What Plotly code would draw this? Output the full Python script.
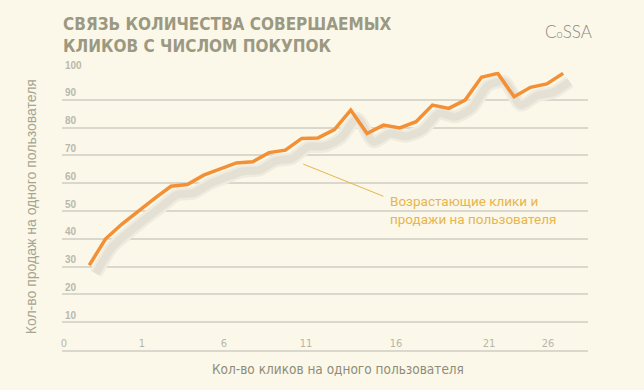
import plotly.graph_objects as go

# ---- data ----
click_index = [1, 2, 3, 4, 5, 6, 7, 8, 9, 10, 11, 12, 13, 14, 15,
               16, 17, 18, 19, 20, 21, 22, 23, 24, 25, 26, 27, 28, 29, 30]
sales = [30.5, 40.0, 45.3, 50.0, 54.5, 58.9, 59.5, 62.9, 65.2, 67.3,
         67.7, 71.0, 71.9, 76.1, 76.3, 79.3, 86.3, 77.9, 80.9, 79.9,
         82.1, 88.1, 86.9, 89.9, 98.1, 99.5, 91.1, 94.5, 95.7, 99.5]
x_tick_labels = ["0", "1", "6", "11", "16", "21", "26"]
y_tick_labels = ["10", "20", "30", "40", "50", "60", "70", "80", "90", "100"]
y_tick_values = [10, 20, 30, 40, 50, 60, 70, 80, 90, 100]

title_lines = ["СВЯЗЬ КОЛИЧЕСТВА СОВЕРШАЕМЫХ", "КЛИКОВ С ЧИСЛОМ ПОКУПОК"]
x_title = "Кол-во кликов на одного пользователя"
y_title = "Кол-во продаж на одного пользователя"
note_lines = ["Возрастающие клики и", "продажи на пользователя"]

# ---- style ----
BG = "#fbf8ea"
GRID = "#dad8cc"
ORANGE = "#f38f34"
TITLE_C = "#9b9982"
NOTE_C = "#e8b54c"
NARROW = "Liberation Sans Narrow, DejaVu Sans Condensed, sans-serif"

x_tick_positions = [-0.55, 4.22, 9.24, 14.26, 19.77, 25.46, 29.07]
shadow_dx, shadow_dy = 0.4, -3.0

fig = go.Figure()
# soft shadow under the line
fig.add_trace(go.Scatter(
    x=[v + shadow_dx for v in click_index], y=[v + shadow_dy for v in sales],
    mode="lines", line=dict(color="#efecdf", width=13, shape="spline", smoothing=0.7),
    hoverinfo="skip", showlegend=False))
fig.add_trace(go.Scatter(
    x=[v + shadow_dx for v in click_index], y=[v + shadow_dy for v in sales],
    mode="lines", line=dict(color="#e4e1d4", width=8, shape="spline", smoothing=0.7),
    hoverinfo="skip", showlegend=False))
fig.add_trace(go.Scatter(
    x=click_index, y=sales, mode="lines",
    line=dict(color=ORANGE, width=3.5), showlegend=False))

fig.update_layout(
    width=644, height=390,
    margin=dict(l=62, r=56, t=72, b=40),
    paper_bgcolor=BG, plot_bgcolor=BG,
    showlegend=False,
)
fig.update_xaxes(
    range=[-0.67, 31.52],
    tickmode="array", tickvals=x_tick_positions, ticktext=x_tick_labels,
    ticklabelposition="inside", ticklabeloverflow="allow",
    tickfont=dict(family=NARROW, size=11, color="#b8b6a8"),
    ticks="", showgrid=False, zeroline=False,
    showline=True, linecolor=GRID, linewidth=2,
)
fig.update_yaxes(
    range=[0, 100],
    tickmode="array", tickvals=y_tick_values, ticktext=y_tick_labels,
    ticklabelposition="inside top", ticklabeloverflow="allow",
    tickfont=dict(family="Liberation Sans, Arial, sans-serif", size=10,
                  color="#bab8aa", weight="bold"),
    ticks="", showgrid=True, gridcolor=GRID, gridwidth=2,
    zeroline=False, showline=False,
)

ann = []
ann.append(dict(xref="paper", yref="paper", x=-0.002, y=1.132, xanchor="left", yanchor="middle",
                text="<b>" + "<br>".join(title_lines) + "</b>", showarrow=False, align="left",
                font=dict(family=NARROW, size=17, color=TITLE_C)))
# logo
ann.append(dict(xref="paper", yref="paper", x=0.963, y=1.144, xanchor="center", yanchor="middle",
                text="C<span style='font-size:11px'>o</span>SSA", showarrow=False,
                font=dict(family="Lato, sans-serif", size=17, color="#8a887e", weight=300)))
# axis titles
ann.append(dict(xref="paper", yref="paper", x=0.525, y=-0.07, xanchor="center", yanchor="middle",
                text=x_title, showarrow=False,
                font=dict(family=NARROW, size=13.5, color="#8e8c76")))
ann.append(dict(xref="paper", yref="paper", x=-0.0595, y=0.516, xanchor="center", yanchor="middle",
                text=y_title, showarrow=False, textangle=-90,
                font=dict(family="Liberation Sans, Arial, sans-serif", size=14, color="#a6a490")))
# leader line + note
ann.append(dict(x=19.0, y=55.3, ax=14.0, ay=67.1, xref="x", yref="y", axref="x", ayref="y",
                text="", showarrow=True, arrowhead=0, arrowwidth=1, arrowcolor=NOTE_C))
ann.append(dict(x=19.28, y=50.3, xref="x", yref="y", xanchor="left", yanchor="middle",
                text="<br>".join(note_lines), showarrow=False, align="left",
                font=dict(family="Roboto, sans-serif", size=13.5, color=NOTE_C)))
fig.update_layout(annotations=ann)

fig.write_html("out.html", config={"displayModeBar": False},
               post_script="document.body.style.margin='0';")
